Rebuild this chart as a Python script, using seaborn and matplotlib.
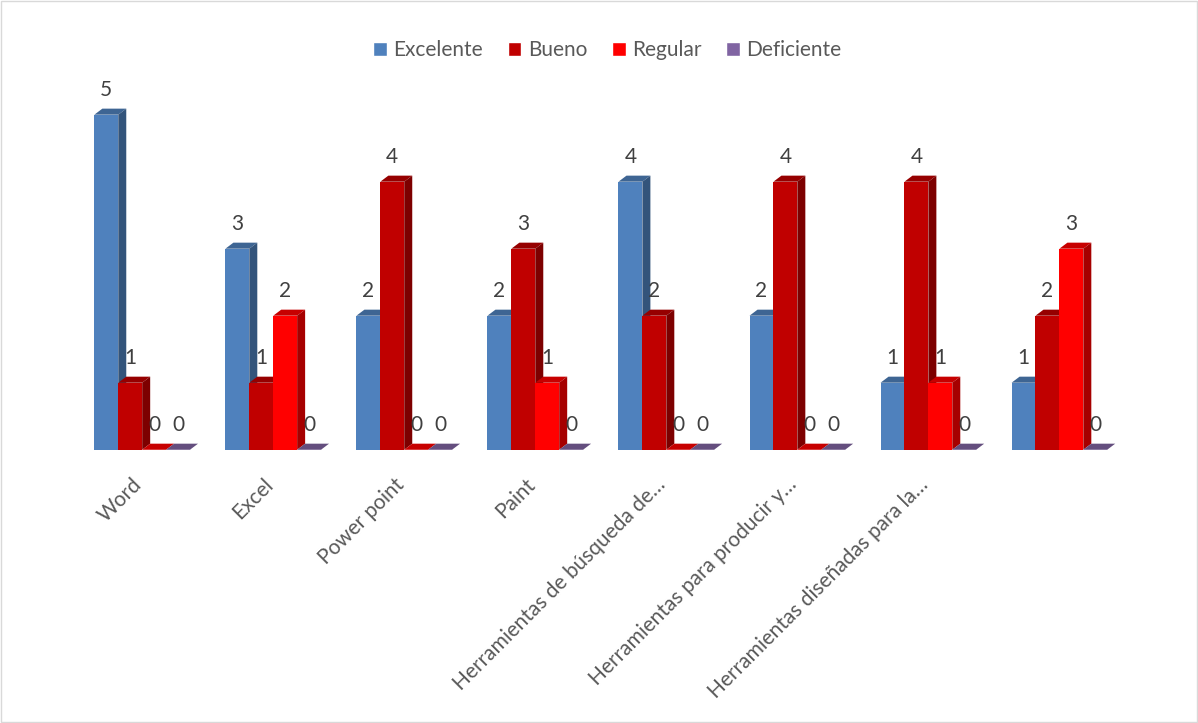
#!/usr/bin/env python3
import matplotlib
matplotlib.use("Agg")
import matplotlib.pyplot as plt
import pandas as pd
import seaborn as sns
from matplotlib.colors import to_rgb
from matplotlib.patches import Polygon, Rectangle

herramientas = [
    "Word",
    "Excel",
    "Power point",
    "Paint",
    "Herramientas de búsqueda de…",
    "Herramientas para producir y…",
    "Herramientas diseñadas para la…",
    "",
]
niveles = ["Excelente", "Bueno", "Regular", "Deficiente"]
excelente = [5, 3, 2, 2, 4, 2, 1, 1]
bueno = [1, 1, 4, 3, 2, 4, 4, 2]
regular = [0, 2, 0, 1, 0, 0, 1, 3]
deficiente = [0, 0, 0, 0, 0, 0, 0, 0]
colores = ["#4F81BD", "#C00000", "#FF0000", "#8064A2"]

sns.set_theme(style="white")
plt.rcParams["font.family"] = ["Lato", "DejaVu Sans"]


def shade(c, f):
    r, g, b = to_rgb(c)
    return (r * f, g * f, b * f)


def main():
    cat_ids = [f"c{i}" for i in range(len(herramientas))]
    df = pd.DataFrame({
        "cat": cat_ids * 4,
        "nivel": sum([[n] * len(cat_ids) for n in niveles], []),
        "valor": excelente + bueno + regular + deficiente,
    })

    fig = plt.figure(figsize=(11.98, 7.23), dpi=100)
    ax = fig.add_axes([0.064, 0.378, 0.875, 0.519])
    sns.barplot(data=df, x="cat", y="valor", hue="nivel", order=cat_ids,
                hue_order=niveles, palette=colores, saturation=1, width=0.73,
                legend=False, ax=ax)

    ax.set_xlim(-0.5, len(cat_ids) - 0.5)
    ax.set_ylim(0, 5.6)
    # depth offset for the fake 3D look, in data units
    dx, dy = 0.061, 0.09

    bars = list(ax.patches)
    n = len(cat_ids)
    for i, p in enumerate(bars):
        k = i // n
        base = colores[k]
        x, w, h = p.get_x(), p.get_width(), p.get_height()
        z = 2 + k * 3
        p.set_zorder(z)
        p.set_edgecolor(shade(base, 1.0) if h == 0 else "none")
        top = Polygon([(x, h), (x + w, h), (x + w + dx, h + dy), (x + dx, h + dy)],
                      closed=True, facecolor=shade(base, 0.78), edgecolor="none",
                      zorder=z + 1)
        ax.add_patch(top)
        if h > 0:
            side = Polygon([(x + w, 0), (x + w + dx, dy), (x + w + dx, h + dy), (x + w, h)],
                           closed=True, facecolor=shade(base, 0.65), edgecolor="none",
                           zorder=z + 1)
            ax.add_patch(side)
        ax.annotate(f"{int(h)}", (x + w / 2, h + dy), xytext=(0, 6),
                    textcoords="offset points", ha="center", va="bottom",
                    fontsize=15, color="#404040", zorder=20)

    # category labels, rotated like the original
    ax.set_xticks([])
    for i, lab in enumerate(herramientas):
        ax.annotate(lab, (i, 0), xytext=(-2.5, -23), textcoords="offset points",
                    rotation=45, ha="right", va="center", rotation_mode="anchor",
                    fontsize=15, color="#595959", annotation_clip=False)
    ax.set_yticks([])
    ax.set_xlabel("")
    ax.set_ylabel("")
    sns.despine(ax=ax, left=True, bottom=True)

    handles = [Rectangle((0, 0), 1, 1, facecolor=c) for c in colores]
    fig.legend(handles, niveles, loc="upper center", bbox_to_anchor=(0.507, 0.97),
               ncol=4, frameon=False, fontsize=15, handlelength=0.65,
               handleheight=0.65, handletextpad=0.3, columnspacing=1.2,
               labelcolor="#595959")

    fig.patches.append(Rectangle((0.001, 0.001), 0.998, 0.997, transform=fig.transFigure,
                                 fill=False, edgecolor="#D9D9D9", linewidth=1))
    fig.savefig("out.png", dpi=100)
    plt.close(fig)


if __name__ == "__main__":
    main()
